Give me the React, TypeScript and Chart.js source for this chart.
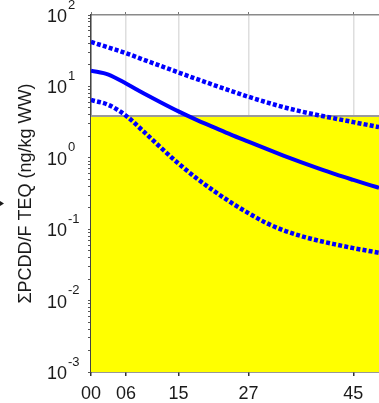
import React, { useEffect, useRef } from "react";
import { Chart, registerables } from "chart.js";

Chart.register(...registerables);

// ---- data ----
const xValues = [0, 3, 6, 9, 12, 15, 18, 21, 24, 27, 30, 33, 36, 39, 42, 45, 48, 49.4];
const upperBound = [41.9, 35.1, 29.2, 23.7, 19.3, 15.7, 12.8, 10.5, 8.65, 7.16, 6.03, 5.13, 4.47, 3.95, 3.53, 3.16, 2.83, 2.69];
const central = [16.6, 14.62, 10.96, 8.04, 5.96, 4.47, 3.43, 2.69, 2.11, 1.68, 1.34, 1.076, 0.871, 0.711, 0.586, 0.49, 0.412, 0.38];
const lowerBound = [6.45, 5.5, 3.89, 2.34, 1.38, 0.832, 0.525, 0.347, 0.237, 0.168, 0.123, 0.0966, 0.0804, 0.0692, 0.061, 0.0543, 0.049, 0.0468];
const limitValue = 3.85;
const limitRange = [0, 49.4];

const xTickValues = [0, 6, 15, 27, 45];
const xTickLabels = ["00", "06", "15", "27", "45"];
const yExponents = [-3, -2, -1, 0, 1, 2];
const yTitle = "\u03A3PCDD/F TEQ (ng/kg WW)";

const X_MIN = 0;
const X_MAX = 49.4;
const FONT = '"Liberation Sans", Arial, sans-serif';

const toPoints = (ys: number[]) => xValues.map((x, i) => ({ x, y: ys[i] }));

const yMinorTicks: number[] = [];
for (let e = -3; e <= 2; e++) {
  for (let m = 1; m <= 9; m++) {
    const v = m * Math.pow(10, e);
    if (v <= 100 + 1e-9) yMinorTicks.push(v);
  }
}

const yLabelPlugin = {
  id: "yLabelPlugin",
  afterDraw(chart: any) {
    const ctx = chart.ctx;
    const ys = chart.scales.y;
    ctx.save();
    ctx.fillStyle = "#1a1a1a";
    yExponents.forEach((e) => {
      const py = ys.getPixelForValue(Math.pow(10, e));
      ctx.font = `18px ${FONT}`;
      ctx.textAlign = "right";
      ctx.textBaseline = "middle";
      ctx.fillText("10", 67, py + 2);
      ctx.font = `13px ${FONT}`;
      ctx.textAlign = "left";
      ctx.fillText(String(e), 68, py - 10);
    });
    // small mark at the left edge
    ctx.beginPath();
    ctx.moveTo(0, 201);
    ctx.lineTo(4, 203.5);
    ctx.lineTo(0, 206);
    ctx.closePath();
    ctx.fill();
    ctx.restore();
  },
};

export default function App() {
  const ref = useRef<HTMLCanvasElement | null>(null);

  useEffect(() => {
    if (!ref.current) return;
    const dotted = {
      borderColor: "#0000ff",
      borderWidth: 4.5,
      borderDash: [4, 2.2],
      borderCapStyle: "butt",
      pointRadius: 0,
      fill: false,
      cubicInterpolationMode: "monotone",
    };
    const chart = new Chart(ref.current, {
      type: "line",
      data: {
        datasets: [
          { ...dotted, label: "upper", data: toPoints(upperBound) },
          {
            label: "central",
            data: toPoints(central),
            borderColor: "#0000ff",
            borderWidth: 4,
            pointRadius: 0,
            fill: false,
            cubicInterpolationMode: "monotone",
          },
          { ...dotted, label: "lower", data: toPoints(lowerBound) },
          {
            label: "limit",
            data: limitRange.map((x) => ({ x, y: limitValue })),
            borderColor: "#9a9a9a",
            borderWidth: 2,
            backgroundColor: "#ffff00",
            pointRadius: 0,
            fill: "start",
          },
        ] as any,
      },
      options: {
        animation: false,
        responsive: false,
        maintainAspectRatio: false,
        layout: { padding: 0 },
        plugins: { legend: { display: false }, tooltip: { enabled: false } },
        scales: {
          x: {
            type: "linear",
            position: "bottom",
            min: X_MIN,
            max: X_MAX,
            afterBuildTicks: (s: any) => {
              s.ticks = xTickValues.map((v) => ({ value: v }));
            },
            afterFit: (s: any) => {
              s.height = 31;
            },
            ticks: {
              autoSkip: false,
              maxRotation: 0,
              padding: 7,
              color: "#1a1a1a",
              font: { family: FONT, size: 18 },
              callback: (v: any) => {
                const i = xTickValues.indexOf(Number(v));
                return i >= 0 ? xTickLabels[i] : "";
              },
            },
            grid: {
              color: "#dedede",
              lineWidth: 1.5,
              tickColor: "#333",
              tickLength: 4,
            },
            border: { color: "#333", width: 1.5 },
          },
          x2: {
            type: "linear",
            position: "top",
            min: X_MIN,
            max: X_MAX,
            afterBuildTicks: (s: any) => {
              s.ticks = xTickValues.map((v) => ({ value: v }));
            },
            afterFit: (s: any) => {
              s.height = 15;
            },
            ticks: { display: false },
            grid: { drawOnChartArea: false, tickColor: "#777", tickLength: 3 },
            border: { color: "#8a8a8a", width: 1.5 },
          },
          y: {
            type: "logarithmic",
            position: "left",
            min: 0.001,
            max: 100,
            afterBuildTicks: (s: any) => {
              s.ticks = yMinorTicks.map((v) => ({ value: v }));
            },
            afterFit: (s: any) => {
              s.width = 91;
            },
            ticks: { display: false },
            grid: { drawOnChartArea: false, tickColor: "#555", tickLength: 3 },
            border: { color: "#444", width: 1.5 },
            title: {
              display: true,
              text: yTitle,
              color: "#1a1a1a",
              font: { family: FONT, size: 18 },
              padding: { top: 15, bottom: 0 },
            },
          },
        },
      } as any,
      plugins: [yLabelPlugin],
    });
    return () => chart.destroy();
  }, []);

  return (
    <div style={{ position: "fixed", left: 0, top: 0, width: 379, height: 403, background: "#fff" }}>
      <canvas ref={ref} width={379} height={403} style={{ width: 379, height: 403, display: "block" }} />
    </div>
  );
}
